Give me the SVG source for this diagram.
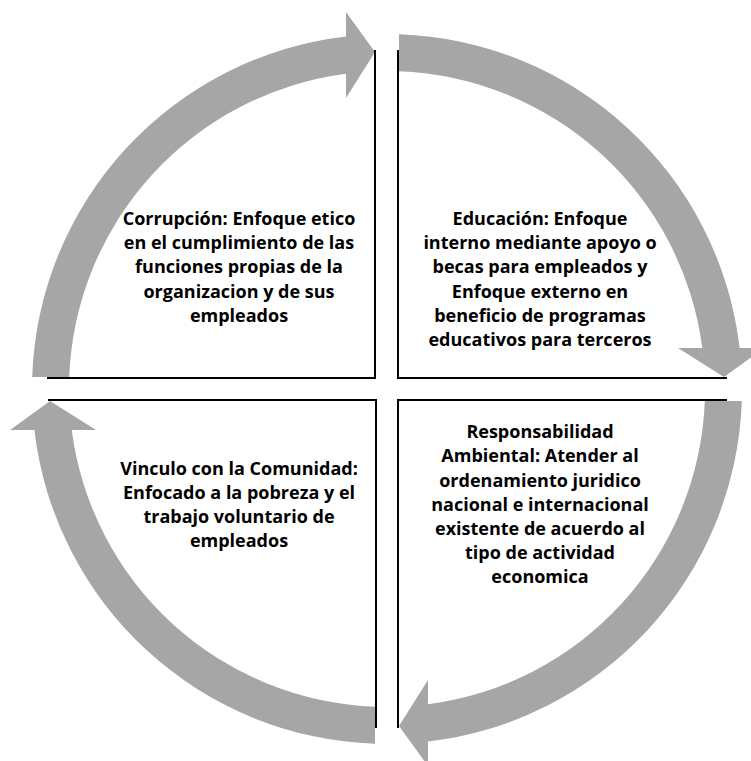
<svg xmlns="http://www.w3.org/2000/svg" width="751" height="761" viewBox="0 0 751 761">
<style>
.arrow{fill:#A6A6A6;stroke:none}
.edge{fill:none;stroke:#000;stroke-width:2}
.lbl{font-family:"Open Sans",Lato,"Liberation Sans",sans-serif;font-weight:700;font-size:18px;fill:#000;text-anchor:middle}
</style>
<rect width="751" height="761" fill="#fff"/>
<g id="connectors">
<path class="arrow" d="M32.2,377 A355,355 0 0 1 346,36.4 L346,12 L375,52 L346,98 L346,73.7 A318,318 0 0 0 69.2,377 Z"/>
<path class="arrow" d="M399,34.2 A355,355 0 0 1 739.6,348 L764,348 L724,377 L678,348 L702.3,348 A318,318 0 0 0 399,71.2 Z"/>
<path class="arrow" d="M741.8,401 A355,355 0 0 1 428,741.6 L428,766 L399,726 L428,680 L428,704.3 A318,318 0 0 0 704.8,401 Z"/>
<path class="arrow" d="M375,743.8 A355,355 0 0 1 34.4,430 L10,430 L50,401 L96,430 L71.7,430 A318,318 0 0 0 375,706.8 Z"/>
</g>
<g id="corrupcion">
<path class="edge" d="M375,50 V378 H47"/>
<text class="lbl"><tspan x="239" y="225">Corrupción: Enfoque etico</tspan><tspan x="239" y="249">en el cumplimiento de las</tspan><tspan x="239" y="273">funciones propias de la</tspan><tspan x="239" y="298">organizacion y de sus</tspan><tspan x="239" y="322">empleados</tspan></text>
</g>
<g id="educacion">
<path class="edge" d="M398,50 V378 H727"/>
<text class="lbl"><tspan x="540" y="225">Educación: Enfoque</tspan><tspan x="540" y="249">interno mediante apoyo o</tspan><tspan x="540" y="273">becas para empleados y</tspan><tspan x="540" y="298">Enfoque externo en</tspan><tspan x="540" y="322">beneficio de programas</tspan><tspan x="540" y="346">educativos para terceros</tspan></text>
</g>
<g id="ambiental">
<path class="edge" d="M727,400 H398 V728"/>
<text class="lbl"><tspan x="540" y="438">Responsabilidad</tspan><tspan x="540" y="462">Ambiental: Atender al</tspan><tspan x="540" y="487">ordenamiento juridico</tspan><tspan x="540" y="511">nacional e internacional</tspan><tspan x="540" y="535">existente de acuerdo al</tspan><tspan x="540" y="559">tipo de actividad</tspan><tspan x="540" y="583">economica</tspan></text>
</g>
<g id="comunidad">
<path class="edge" d="M48,400 H376 V728"/>
<text class="lbl"><tspan x="239" y="475">Vinculo con la Comunidad:</tspan><tspan x="239" y="499">Enfocado a la pobreza y el</tspan><tspan x="239" y="523">trabajo voluntario de</tspan><tspan x="239" y="547">empleados</tspan></text>
</g>
</svg>
